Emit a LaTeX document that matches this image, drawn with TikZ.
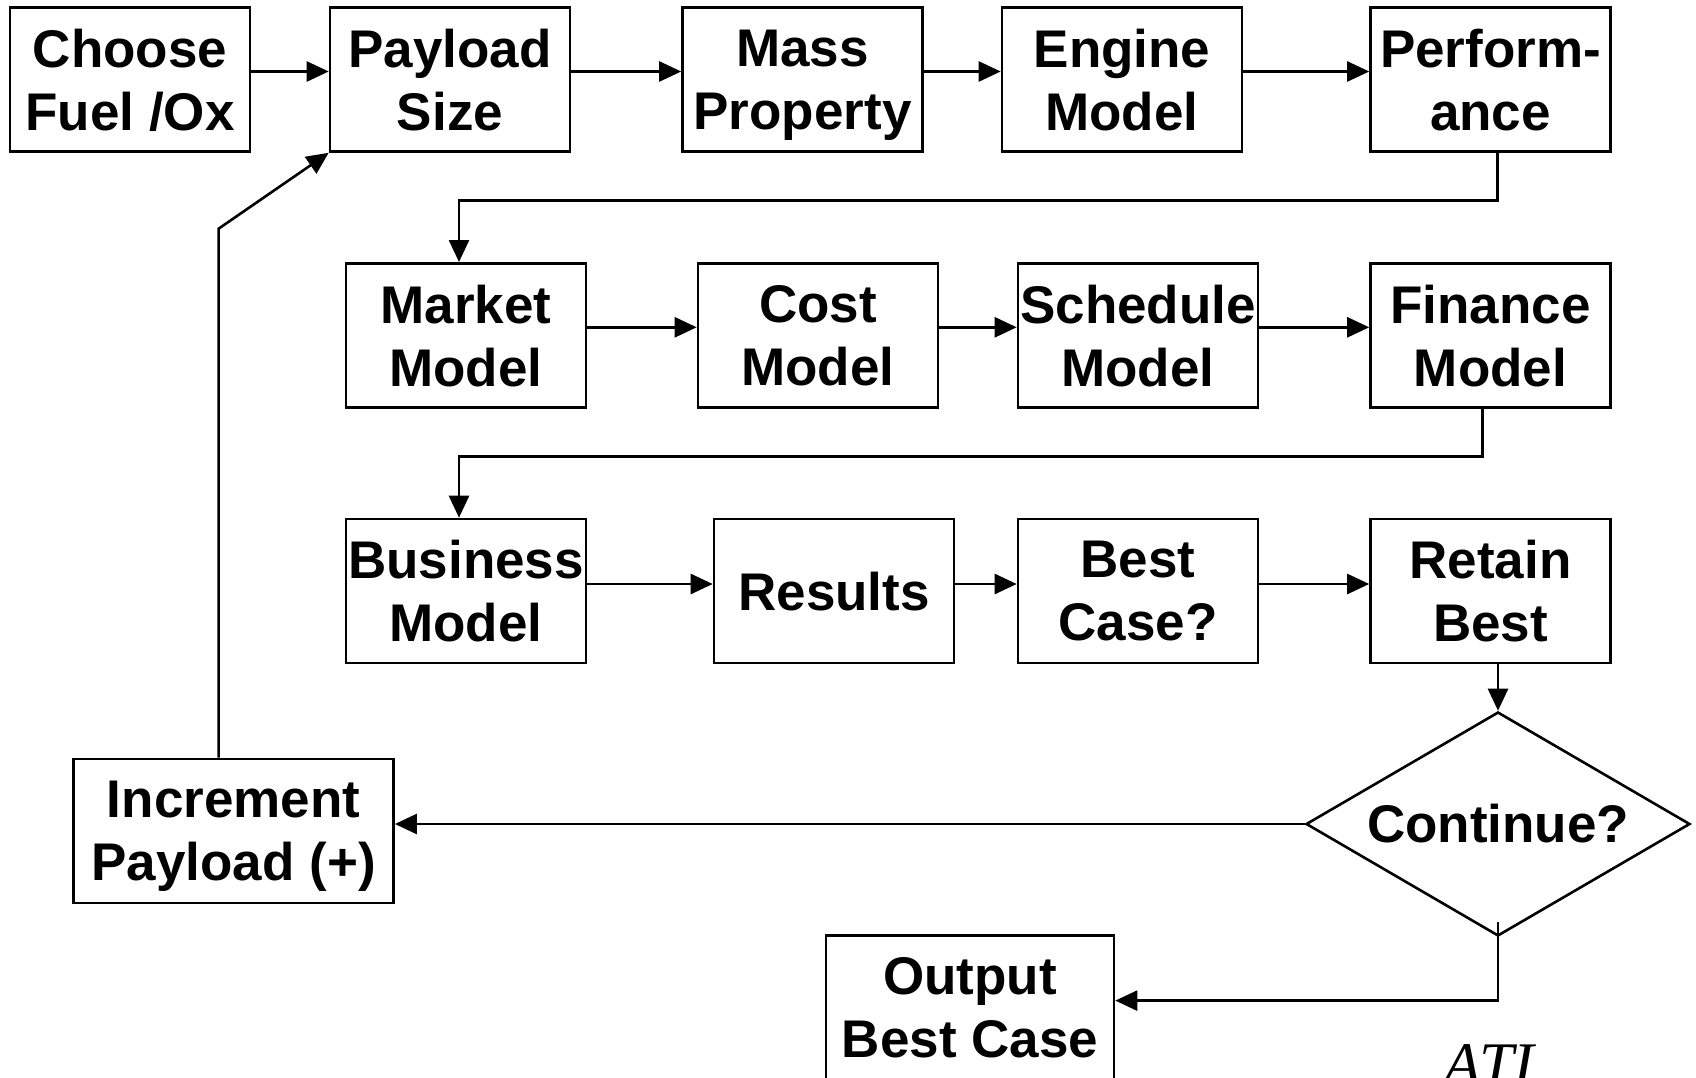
\documentclass[tikz,border=0pt]{standalone}
\usepackage{fontspec}
\setmainfont{Liberation Sans}
\newfontfamily\atifamily{Liberation Serif}
\usetikzlibrary{arrows.meta,shapes.geometric}
\tikzset{
  flowbox/.style={draw, line width=2.6pt, minimum width=240pt, minimum height=144pt,
    inner sep=0pt, align=center, text depth=0pt, font=\bfseries\fontsize{53}{63}\selectfont},
  arr/.style={line width=2.6pt, -{Triangle[length=22pt,width=20pt]}},
  plain/.style={line width=2.6pt}
}
\begin{document}
\begin{tikzpicture}[x=1pt,y=-1pt]
\useasboundingbox (0,0) rectangle (1696,1078);
\clip (0,0) rectangle (1696,1078);
% row 1
\node[flowbox] (choose)  at (130,79.5)   {Choose\\Fuel /Ox};
\node[flowbox] (payload) at (450,79.5)   {Payload\\Size};
\node[flowbox] (mass)    at (802.5,79.5) {Mass\\Property};
\node[flowbox] (engine)  at (1122,79.5)  {Engine\\Model};
\node[flowbox] (perform) at (1490.5,79.5){Perform-\\ance};
% row 2
\node[flowbox] (market)   at (466,335.3)   {Market\\Model};
\node[flowbox] (cost)     at (818,335.3)   {Cost\\Model};
\node[flowbox] (schedule) at (1138,335.3)  {Schedule\\Model};
\node[flowbox] (finance)  at (1490.5,335.3){Finance\\Model};
% row 3
\node[flowbox] (business) at (466,591)    {Business\\Model};
\node[flowbox] (results)  at (834,591)    {Results};
\node[flowbox] (best)     at (1138,591)   {Best\\Case?};
\node[flowbox] (retain)   at (1490.5,591) {Retain\\Best};
% bottom
\node[draw, diamond, aspect=1.714, line width=2.6pt, minimum width=384pt, minimum height=224pt,
  inner sep=0pt, font=\bfseries\fontsize{53}{63}\selectfont] (cont) at (1498,824) {Continue?};
\node[flowbox, minimum width=320pt] (incr) at (233.6,831) {Increment\\Payload (+)};
\node[flowbox, minimum width=288pt] (output) at (970,1007.6) {Output\\Best Case};
\node[anchor=base, inner sep=0pt, font=\atifamily\itshape\fontsize{62}{70}\selectfont] (ati) at (1489,1085) {ATI};
% connectors row 1
\draw[arr] ([yshift=8pt]choose.east) -- ([yshift=8pt]payload.west);
\draw[arr] ([yshift=8pt]payload.east) -- ([yshift=8pt]mass.west);
\draw[arr] ([yshift=8pt]mass.east) -- ([yshift=8pt]engine.west);
\draw[arr] ([yshift=8pt]engine.east) -- ([yshift=8pt]perform.west);
\draw[arr] ([xshift=7pt]perform.south) -- ++(0,47.6) -| ([xshift=-7pt]market.north);
% row 2
\draw[arr] ([yshift=8pt]market.east) -- ([yshift=8pt]cost.west);
\draw[arr] ([yshift=8pt]cost.east) -- ([yshift=8pt]schedule.west);
\draw[arr] ([yshift=8pt]schedule.east) -- ([yshift=8pt]finance.west);
\draw[arr] ([xshift=-8pt]finance.south) -- ++(0,47.6) -| ([xshift=-7pt]business.north);
% row 3
\draw[arr] ([yshift=7pt]business.east) -- ([yshift=7pt]results.west);
\draw[arr] ([yshift=7pt]results.east) -- ([yshift=7pt]best.west);
\draw[arr] ([yshift=7pt]best.east) -- ([yshift=7pt]retain.west);
\draw[arr] (cont.north |- retain.south) -- (cont.north);
% loop
\draw[arr] (cont.west) -- (incr.east |- cont.west);
\draw[arr] ([yshift=15pt]cont.south) |- ([yshift=7pt]output.east);
\draw[arr] ([xshift=-15pt]incr.north) -- ++(0,-529) -- (payload.south west);
\end{tikzpicture}
\end{document}
